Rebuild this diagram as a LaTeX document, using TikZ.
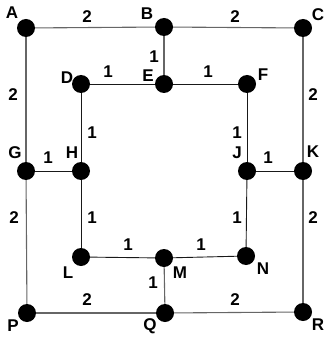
\documentclass[tikz,border=0pt]{standalone}
\usepackage{fontspec}
\setmainfont{Liberation Sans}
\begin{document}
\begin{tikzpicture}[x=1pt,y=-1pt,
  vtx/.style={circle,fill=black,inner sep=0pt,minimum size=18pt},
  lbl/.style={font=\fontsize{17}{19}\selectfont\bfseries,inner sep=0pt},
  outer/.style={draw=black!60,line width=1.1pt},
  inner/.style={draw=black!90,line width=0.9pt}]
\useasboundingbox (0,0) rectangle (326,339);
% vertices
\node[vtx] (A) at (26,28) {};
\node[vtx] (B) at (164,27) {};
\node[vtx] (C) at (303,28) {};
\node[vtx] (D) at (81,84) {};
\node[vtx] (E) at (164,84) {};
\node[vtx] (F) at (247,84) {};
\node[vtx] (G) at (26,171) {};
\node[vtx] (H) at (81,171) {};
\node[vtx] (J) at (247,171) {};
\node[vtx] (K) at (303,171) {};
\node[vtx] (L) at (81,257) {};
\node[vtx] (M) at (164,258) {};
\node[vtx] (N) at (246,256) {};
\node[vtx] (P) at (27,313) {};
\node[vtx] (Q) at (165,313) {};
\node[vtx] (R) at (303,312) {};
% edges
\draw[outer] (A) -- (B);
\draw[outer] (B) -- (C);
\draw[outer] (A) -- (G);
\draw[outer] (G) -- (P);
\draw[outer] (C) -- (K);
\draw[outer] (K) -- (R);
\draw[outer] (P) -- (Q);
\draw[outer] (Q) -- (R);
\draw[outer] (B) -- (E);
\draw[outer] (M) -- (Q);
\draw[inner] (D) -- (E);
\draw[inner] (E) -- (F);
\draw[inner] (D) -- (H);
\draw[inner] (H) -- (L);
\draw[inner] (F) -- (J);
\draw[inner] (J) -- (N);
\draw[inner] (L) -- (M);
\draw[inner] (M) -- (N);
\draw[inner] (G) -- (H);
\draw[inner] (J) -- (K);
% vertex labels
\node[lbl] (lA) at (12,13) {A};
\node[lbl] (lB) at (147,14) {B};
\node[lbl] (lC) at (318,15) {C};
\node[lbl] (lD) at (67,78) {D};
\node[lbl] (lE) at (148,76) {E};
\node[lbl] (lF) at (263,75) {F};
\node[lbl] (lG) at (15,153) {G};
\node[lbl] (lH) at (72,153) {H};
\node[lbl] (lJ) at (237,153) {J};
\node[lbl] (lK) at (313,152) {K};
\node[lbl] (lL) at (68,273) {L};
\node[lbl] (lM) at (180,273) {M};
\node[lbl] (lN) at (263,269) {N};
\node[lbl] (lP) at (13,326) {P};
\node[lbl] (lQ) at (150,326) {Q};
\node[lbl] (lR) at (318,325) {R};
% edge weights
\node[lbl] (wAB) at (87,17) {2};
\node[lbl] (wBC) at (235,17) {2};
\node[lbl] (wBE) at (154,57) {1};
\node[lbl] (wDE) at (108,72) {1};
\node[lbl] (wEF) at (208,72) {1};
\node[lbl] (wAG) at (13,95) {2};
\node[lbl] (wCK) at (313,95) {2};
\node[lbl] (wDH) at (92,133) {1};
\node[lbl] (wFJ) at (237,133) {1};
\node[lbl] (wGH) at (48,158) {1};
\node[lbl] (wJK) at (268,158) {1};
\node[lbl] (wGP) at (14,218) {2};
\node[lbl] (wHL) at (92,218) {1};
\node[lbl] (wJN) at (237,218) {1};
\node[lbl] (wKR) at (313,218) {2};
\node[lbl] (wLM) at (128,245) {1};
\node[lbl] (wMN) at (201,245) {1};
\node[lbl] (wMQ) at (153,283) {1};
\node[lbl] (wPQ) at (87,300) {2};
\node[lbl] (wQR) at (235,300) {2};
\end{tikzpicture}
\end{document}
